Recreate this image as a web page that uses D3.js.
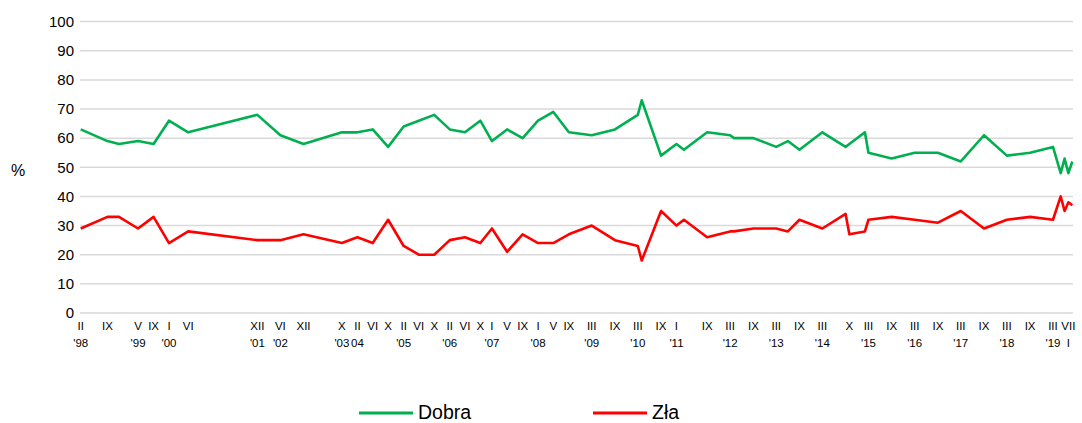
<!DOCTYPE html>
<html>
<head>
<meta charset="utf-8">
<script src="https://cdn.jsdelivr.net/npm/d3@7"></script>
<style>
  body { margin: 0; background: #fff; }
  text { font-family: "Liberation Sans", Arial, sans-serif; fill: #000; }
</style>
</head>
<body>
<div id="chart"></div>
<script>
// dane: miesiące badań (RRRR-MM)
const dates = ["1998-02","1998-09","1998-12","1999-05","1999-09","2000-01","2000-06","2001-12","2002-06","2002-12",
  "2003-10","2004-02","2004-06","2004-10","2005-02","2005-06","2005-10","2006-02","2006-06","2006-10",
  "2007-01","2007-05","2007-09","2008-01","2008-05","2008-09","2009-03","2009-09","2010-03","2010-04",
  "2010-09","2011-01","2011-03","2011-09","2012-03","2012-04","2012-09","2013-03","2013-06","2013-09",
  "2014-03","2014-09","2014-10","2015-02","2015-03","2015-09","2016-03","2016-09","2017-03","2017-09",
  "2018-03","2018-09","2019-03","2019-05","2019-06","2019-07","2019-08"];
const dobra = [63,59,58,59,58,66,62,68,61,58,
  62,62,63,57,64,66,68,63,62,66,
  59,63,60,66,69,62,61,63,68,73,
  54,58,56,62,61,60,60,57,59,56,
  62,57,58,62,55,53,55,55,52,61,
  54,55,57,48,53,48,52];
const zla = [29,33,33,29,33,24,28,25,25,27,
  24,26,24,32,23,20,20,25,26,24,
  29,21,27,24,24,27,30,25,23,18,
  35,30,32,26,28,28,29,29,28,32,
  29,34,27,28,32,33,32,31,35,29,
  32,33,32,40,35,38,37];

// etykiety osi X
const tickDates = ["1998-02","1998-09","1999-05","1999-09","2000-01","2000-06","2001-12","2002-06","2002-12",
  "2003-10","2004-02","2004-06","2004-10","2005-02","2005-06","2005-10","2006-02","2006-06","2006-10",
  "2007-01","2007-05","2007-09","2008-01","2008-05","2008-09","2009-03","2009-09","2010-03","2010-09",
  "2011-01","2011-09","2012-03","2012-09","2013-03","2013-09","2014-03","2014-10","2015-03","2015-09",
  "2016-03","2016-09","2017-03","2017-09","2018-03","2018-09","2019-03","2019-07"];
const tickMonths = ["II","IX","V","IX","I","VI","XII","VI","XII",
  "X","II","VI","X","II","VI","X","II","VI","X",
  "I","V","IX","I","V","IX","III","IX","III","IX",
  "I","IX","III","IX","III","IX","III","X","III","IX",
  "III","IX","III","IX","III","IX","III","VII"];
const tickYears = ["'98","","'99","","'00","","'01","'02","",
  "'03","04","","","'05","","","'06","","",
  "'07","","","'08","","","'09","","'10","",
  "'11","","'12","","'13","","'14","","'15","",
  "'16","","'17","","'18","","'19","I"];
const yTicks = [0,10,20,30,40,50,60,70,80,90,100];

const width = 1082, height = 423;
const parse = d3.timeParse("%Y-%m");

const svg = d3.select("#chart").append("svg")
  .attr("width", width)
  .attr("height", height);

const x = d3.scaleTime()
  .domain(d3.extent(dates, parse))
  .range([80.7, 1072.3]);

const y = d3.scaleLinear()
  .domain([0, 100])
  .range([313, 21.6]);

// siatka
svg.append("g")
  .selectAll("line")
  .data(yTicks)
  .join("line")
  .attr("x1", 80)
  .attr("x2", 1073)
  .attr("y1", d => y(d))
  .attr("y2", d => y(d))
  .attr("stroke", "#d9d9d9")
  .attr("stroke-width", 1.5);

// oś Y
const yAxis = svg.append("g")
  .attr("transform", "translate(80,0)")
  .call(d3.axisLeft(y).tickValues(yTicks).tickSize(0).tickPadding(6));
yAxis.select(".domain").remove();
yAxis.selectAll("text").style("font-size", "15px").attr("fill", "#000");

svg.append("text")
  .attr("x", 18)
  .attr("y", y(49))
  .attr("text-anchor", "middle")
  .attr("dy", "0.35em")
  .style("font-size", "16px")
  .text("%");

// oś X: miesiąc i rok
const ticks = svg.append("g")
  .selectAll("g")
  .data(tickDates)
  .join("g")
  .attr("transform", d => `translate(${x(parse(d))},0)`);

ticks.append("text")
  .attr("y", 330)
  .attr("text-anchor", "middle")
  .style("font-size", "11.5px")
  .text((d, i) => tickMonths[i]);

ticks.append("text")
  .attr("y", 347)
  .attr("text-anchor", "middle")
  .style("font-size", "11.5px")
  .text((d, i) => tickYears[i]);

// linie serii
const series = [
  { name: "Dobra", values: dobra, color: "#00b050" },
  { name: "Zła", values: zla, color: "#ff0000" }
];

const line = d3.line()
  .x(d => x(d[0]))
  .y(d => y(d[1]));

series.forEach(s => {
  svg.append("path")
    .datum(dates.map((d, i) => [parse(d), s.values[i]]))
    .attr("fill", "none")
    .attr("stroke", s.color)
    .attr("stroke-width", 2.6)
    .attr("stroke-linejoin", "round")
    .attr("d", line);
});

// legenda
const legendX = [359, 593];
const legend = svg.append("g")
  .selectAll("g")
  .data(series)
  .join("g")
  .attr("transform", (d, i) => `translate(${legendX[i]},413)`);

legend.append("line")
  .attr("x1", 0)
  .attr("x2", 54)
  .attr("stroke", d => d.color)
  .attr("stroke-width", 2.8);

legend.append("text")
  .attr("x", 59)
  .attr("y", 6)
  .style("font-size", "19.5px")
  .text(d => d.name);
</script>
</body>
</html>
